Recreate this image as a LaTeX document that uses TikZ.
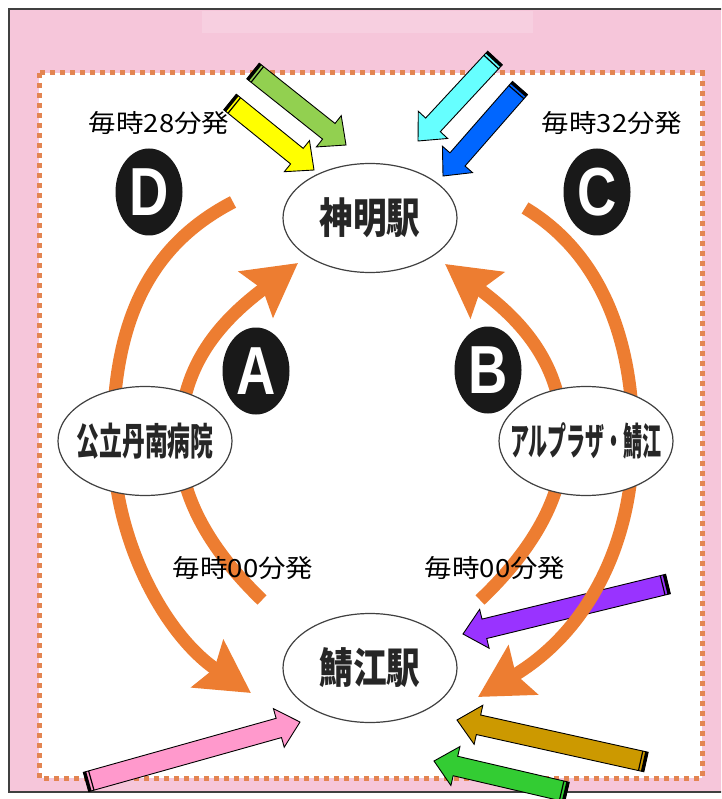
\documentclass[tikz,border=0pt]{standalone}
\usepackage{fontspec}
\usetikzlibrary{positioning,calc,shapes.geometric,arrows.meta}
\newfontfamily\jpfont{Noto Sans CJK JP}[FakeStretch=1.1]
\newfontfamily\stnfont{Noto Sans CJK JP}[FakeStretch=0.8]
\newfontfamily\stnnarrow{Noto Sans CJK JP}[FakeStretch=0.6]
\newfontfamily\stnnarrower{Noto Sans CJK JP}[FakeStretch=0.5]
\newfontfamily\letfont{Liberation Sans}[FakeStretch=0.8]
\definecolor{pinkbg}{HTML}{F6C6DA}
\definecolor{arcorange}{HTML}{ED7D31}
\definecolor{dotorange}{HTML}{E38552}
\definecolor{limefill}{HTML}{92D050}
\definecolor{yellowfill}{HTML}{FFFF00}
\definecolor{cyanfill}{HTML}{66FFFF}
\definecolor{bluefill}{HTML}{0066FF}
\definecolor{purplefill}{HTML}{9933FF}
\definecolor{pinkfill}{HTML}{FF99CC}
\definecolor{brownfill}{HTML}{CC9900}
\definecolor{greenfill}{HTML}{33CC33}
% block arrow with a striped tail: colour, tail, tip
\newcommand{\pencil}[3]{%
  \coordinate (pH) at ($(#3)!22pt!(#2)$);
  \filldraw[fill=#1, draw=black, line width=0.9pt, line join=miter]
    ($(#2)!10pt!90:(#3)$) -- ($(pH)!10pt!90:(#3)$) -- ($(pH)!20pt!90:(#3)$) -- (#3)
    -- ($(pH)!20pt!-90:(#3)$) -- ($(pH)!10pt!-90:(#3)$) -- ($(#2)!10pt!-90:(#3)$) -- cycle;
  \coordinate (pA) at ($(#2)!1.5pt!(#3)$);
  \coordinate (pB) at ($(#2)!5.5pt!(#3)$);
  \draw[line width=3pt] ($(pA)!10pt!90:(#3)$) -- ($(pA)!10pt!-90:(#3)$);
  \draw[line width=1.2pt] ($(pB)!10pt!90:(#3)$) -- ($(pB)!10pt!-90:(#3)$);
}
% text that does not widen its ellipse
\newcommand{\stnname}[1]{\makebox[0pt]{#1}}
\tikzset{
  station/.style={
    ellipse, draw=black!75, line width=1.2pt, fill=white, inner sep=0pt,
    minimum width=174pt, minimum height=109pt, text=black!85,
    font=\stnfont\bfseries\fontsize{42}{42}\selectfont
  },
  badge/.style={
    ellipse, fill=black!90, text=white, inner sep=0pt,
    minimum width=67pt, minimum height=87pt,
    font=\letfont\bfseries\fontsize{68}{68}\selectfont
  },
  timelabel/.style={inner sep=0pt, font=\jpfont\fontsize{25}{25}\selectfont},
  route/.style={draw=arcorange, line width=13pt},
  routetip/.style={-{Stealth[length=52pt,width=56pt,inset=8pt]}},
  framedots/.style={draw=dotorange, line width=5pt, dash pattern=on 5pt off 5pt}
}

\begin{document}
\begin{tikzpicture}[x=1pt, y=-1pt]
        \useasboundingbox (0,0) rectangle (721,799);
        \clip (0,0) rectangle (721,799);
        \filldraw[fill=pinkbg, draw=black!75, line width=1.5pt] (9,9) rectangle (740,792);
        \fill[pinkbg!85!white] (202,11) rectangle (533,33);
        \fill[white] (39,73) rectangle (702,778);
        \draw[framedots] (39,73) rectangle (702,778);

        \coordinate (purpleT) at (668,584);
        \coordinate (purpleP) at (463,634);
        \pencil{purplefill}{purpleT}{purpleP}

        % routes
        \coordinate (aFrom) at (262,600);
        \coordinate (aTo) at (298,263);
        \coordinate (bFrom) at (480,600);
        \coordinate (bTo) at (445,264);
        \coordinate (cFrom) at (525,208);
        \coordinate (cTo) at (478,697);
        \coordinate (dFrom) at (233,202);
        \coordinate (dTo) at (251,693);
        \draw[route, routetip] (aFrom) .. controls (205,545) and (178,490) .. (180,440) .. controls (180,370) and (215,325) .. (aTo);
        \draw[route, routetip] (bFrom) .. controls (538,545) and (565,490) .. (563,440) .. controls (563,370) and (528,325) .. (bTo);
        \draw[route, routetip] (cFrom) .. controls (595,250) and (633,330) .. (633,440) .. controls (633,540) and (590,630) .. (cTo);
        \draw[route, routetip] (dFrom) .. controls (150,245) and (113,320) .. (113,440) .. controls (113,540) and (165,635) .. (dTo);

        \node [station] (shinmei) at (370,218) {\stnname{神明駅}};
        \node [station, on grid, below=450pt of shinmei] (sabae) {\stnname{鯖江駅}};
        \node [station, on grid, below left=223pt and 225pt of shinmei, font=\stnnarrow\bfseries\fontsize{38}{38}\selectfont] (tannan) {\stnname{公立丹南病院}};
        \node [station, on grid, below right=223pt and 216pt of shinmei, font=\stnnarrower\bfseries\fontsize{38}{38}\selectfont] (alplaza) {\stnname{アルプラザ・鯖江}};

        \node [badge, on grid, above left=26pt and 221pt of shinmei] (routeD) {D};
        \node [badge, on grid, below left=153pt and 114pt of shinmei] (routeA) {A};
        \node [badge, on grid, below right=152pt and 118pt of shinmei] (routeB) {B};
        \node [badge, on grid, above right=26pt and 227pt of shinmei] (routeC) {C};

        \node [timelabel, on grid, above left=95pt and 211pt of shinmei] (dep28) {毎時28分発};
        \node [timelabel, on grid, above right=95pt and 242pt of shinmei] (dep32) {毎時32分発};
        \node [timelabel, on grid, above left=100pt and 127pt of sabae] (depA) {毎時00分発};
        \node [timelabel, on grid, above right=100pt and 125pt of sabae] (depB) {毎時00分発};

        % pointers
        \coordinate (limeT) at (253,71);
        \coordinate (limeP) at (346,145);
        \coordinate (yellowT) at (230,102);
        \coordinate (yellowP) at (314,170);
        \coordinate (cyanT) at (495,58);
        \coordinate (cyanP) at (418,141);
        \coordinate (blueT) at (520,88);
        \coordinate (blueP) at (443,176);
        \coordinate (pinkT) at (86,782);
        \coordinate (pinkP) at (300,722);
        \coordinate (brownT) at (646,762);
        \coordinate (brownP) at (457,720);
        \coordinate (greenT) at (567,792);
        \coordinate (greenP) at (434,761);
        \pencil{limefill}{limeT}{limeP}
        \pencil{yellowfill}{yellowT}{yellowP}
        \pencil{cyanfill}{cyanT}{cyanP}
        \pencil{bluefill}{blueT}{blueP}
        \pencil{pinkfill}{pinkT}{pinkP}
        \pencil{brownfill}{brownT}{brownP}
        \pencil{greenfill}{greenT}{greenP}
      \end{tikzpicture}
\end{document}
